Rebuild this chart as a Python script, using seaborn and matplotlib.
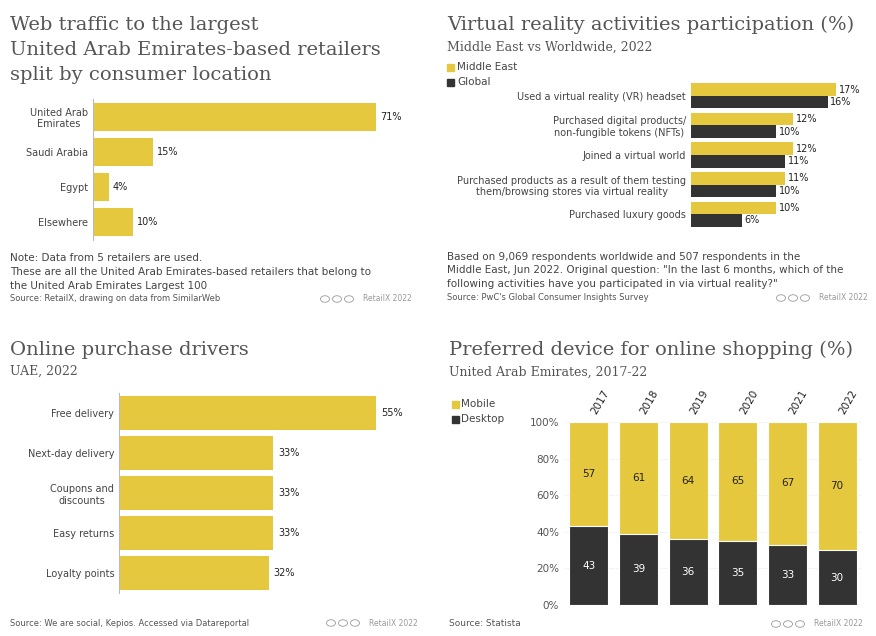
import matplotlib
matplotlib.use("Agg")
import matplotlib.pyplot as plt
import seaborn as sns
import pandas as pd
import numpy as np

# ---- data ----
traffic_cats = ["United Arab\nEmirates", "Saudi Arabia", "Egypt", "Elsewhere"]
traffic_vals = [71, 15, 4, 10]

vr_cats = ["Used a virtual reality (VR) headset",
           "Purchased digital products/\nnon-fungible tokens (NFTs)",
           "Joined a virtual world",
           "Purchased products as a result of them testing\nthem/browsing stores via virtual reality",
           "Purchased luxury goods"]
vr_me = [17, 12, 12, 11, 10]
vr_global = [16, 10, 11, 10, 6]

driver_cats = ["Free delivery", "Next-day delivery", "Coupons and\ndiscounts", "Easy returns", "Loyalty points"]
driver_vals = [55, 33, 33, 33, 32]

years = ["2017", "2018", "2019", "2020", "2021", "2022"]
mobile = [57, 61, 64, 65, 67, 70]
desktop = [43, 39, 36, 35, 33, 30]

YEL = "#E6C83F"
DARK = "#333333"
TXT = "#444444"
GRAY = "#555555"
SERIF = "DejaVu Serif"
TS = 14
W, H = 876, 636

fig = plt.figure(figsize=(W/100, H/100), dpi=100)
fig.patch.set_facecolor("white")

def rect(x0, y0, x1, y1):
    return [x0/W, 1-y1/H, (x1-x0)/W, (y1-y0)/H]

def txt(x, y, s, size=8, color=TXT, family="DejaVu Sans", ha="left", va="center", **kw):
    fig.text(x/W, 1-y/H, s, fontsize=size, color=color, family=family, ha=ha, va=va, **kw)

def badge(x, y):
    for i in range(3):
        c = plt.Circle(((x+i*12)/W, 1-y/H), 4.5/W, transform=fig.transFigure,
                       fill=False, ec="#999999", lw=0.6)
        fig.add_artist(c)
    txt(x+38, y, "RetailX 2022", size=5.5, color="#999999")

def style_h(ax):
    sns.despine(ax=ax, top=True, right=True, bottom=True)
    ax.spines["left"].set_color("#bbbbbb")
    ax.set_xticks([]); ax.set_xlabel(""); ax.set_ylabel("")
    ax.tick_params(axis="y", length=0, labelsize=7, labelcolor=TXT)

# ---- panel 1 ----
txt(10, 25, "Web traffic to the largest", size=TS, family=SERIF, color=GRAY)
txt(10, 50, "United Arab Emirates-based retailers", size=TS, family=SERIF, color=GRAY)
txt(10, 75, "split by consumer location", size=TS, family=SERIF, color=GRAY)
ax1 = fig.add_axes(rect(93, 99, 420, 240))
df1 = pd.DataFrame({"c": traffic_cats, "v": traffic_vals})
sns.barplot(data=df1, y="c", x="v", orient="h", color=YEL, width=0.8, ax=ax1, saturation=1)
ax1.set_xlim(0, 82)
for i, v in enumerate(traffic_vals):
    ax1.text(v+1, i, f"{v}%", va="center", fontsize=7, color="#222222")
for lab in ax1.get_yticklabels():
    lab.set_multialignment("center")
style_h(ax1)
txt(10, 258, "Note: Data from 5 retailers are used.", size=7.5)
txt(10, 272, "These are all the United Arab Emirates-based retailers that belong to", size=7.5)
txt(10, 286, "the United Arab Emirates Largest 100", size=7.5)
txt(10, 299, "Source: RetailX, drawing on data from SimilarWeb", size=6, color=GRAY)
badge(325, 299)

# ---- panel 2 ----
txt(447, 25, "Virtual reality activities participation (%)", size=TS, family=SERIF, color=GRAY)
txt(447, 47, "Middle East vs Worldwide, 2022", size=9, family=SERIF, color=GRAY)
fig.patches.append(plt.Rectangle((447/W, 1-71/H), 7/W, 7/H, transform=fig.transFigure, color=YEL))
fig.patches.append(plt.Rectangle((447/W, 1-86/H), 7/W, 7/H, transform=fig.transFigure, color=DARK))
txt(457, 67, "Middle East", size=7.5)
txt(457, 82, "Global", size=7.5)
ax2 = fig.add_axes(rect(691, 81, 866, 229))
df2 = pd.DataFrame({"c": vr_cats*2, "v": vr_me+vr_global,
                    "s": ["Middle East"]*5 + ["Global"]*5})
sns.barplot(data=df2, y="c", x="v", hue="s", orient="h", palette=[YEL, DARK],
            width=0.85, ax=ax2, saturation=1, legend=False)
ax2.set_xlim(0, 20.5)
for i, (a, b) in enumerate(zip(vr_me, vr_global)):
    ax2.text(a+0.3, i-0.21, f"{a}%", va="center", fontsize=7, color="#222222")
    ax2.text(b+0.3, i+0.21, f"{b}%", va="center", fontsize=7, color="#222222")
style_h(ax2)
ax2.spines["left"].set_visible(False)
for lab in ax2.get_yticklabels():
    lab.set_multialignment("center")
txt(447, 257, "Based on 9,069 respondents worldwide and 507 respondents in the", size=7.5)
txt(447, 270, "Middle East, Jun 2022. Original question: \"In the last 6 months, which of the", size=7.5)
txt(447, 284, "following activities have you participated in via virtual reality?\"", size=7.5)
txt(447, 298, "Source: PwC's Global Consumer Insights Survey", size=6, color=GRAY)
badge(781, 298)

# ---- panel 3 ----
txt(10, 350, "Online purchase drivers", size=TS, family=SERIF, color=GRAY)
txt(10, 371, "UAE, 2022", size=9, family=SERIF, color=GRAY)
ax3 = fig.add_axes(rect(119, 393, 430, 593))
df3 = pd.DataFrame({"c": driver_cats, "v": driver_vals})
sns.barplot(data=df3, y="c", x="v", orient="h", color=YEL, width=0.85, ax=ax3, saturation=1)
ax3.set_xlim(0, 66.5)
for i, v in enumerate(driver_vals):
    ax3.text(v+1, i, f"{v}%", va="center", fontsize=7, color="#222222")
for lab in ax3.get_yticklabels():
    lab.set_multialignment("center")
style_h(ax3)
txt(10, 623, "Source: We are social, Kepios. Accessed via Datareportal", size=6, color=GRAY)
badge(331, 623)

# ---- panel 4 ----
txt(449, 350, "Preferred device for online shopping (%)", size=TS, family=SERIF, color=GRAY)
txt(449, 372, "United Arab Emirates, 2017-22", size=9, family=SERIF, color=GRAY)
fig.patches.append(plt.Rectangle((452/W, 1-408/H), 7/W, 7/H, transform=fig.transFigure, color=YEL))
fig.patches.append(plt.Rectangle((452/W, 1-423/H), 7/W, 7/H, transform=fig.transFigure, color=DARK))
txt(461, 404, "Mobile", size=7.5)
txt(461, 419, "Desktop", size=7.5)
ax4 = fig.add_axes(rect(564, 422, 862, 605))
total = [m+d for m, d in zip(mobile, desktop)]
df4 = pd.DataFrame({"y": years, "t": total, "d": desktop})
sns.barplot(data=df4, x="y", y="t", color=YEL, width=0.78, ax=ax4, saturation=1)
sns.barplot(data=df4, x="y", y="d", color=DARK, width=0.78, ax=ax4, saturation=1)
for b in ax4.patches:
    b.set_edgecolor("white"); b.set_linewidth(0.8)
ax4.set_ylim(0, 100)
ax4.set_yticks(range(0, 101, 20))
ax4.set_yticklabels([f"{v}%" for v in range(0, 101, 20)])
ax4.yaxis.grid(True, color="#dddddd", lw=0.5, ls=":")
ax4.set_axisbelow(True)
ax4.xaxis.tick_top()
ax4.tick_params(axis="x", length=0, labelsize=7.5, labelcolor="#222222", pad=4)
for lab in ax4.get_xticklabels():
    lab.set_rotation(60); lab.set_ha("left")
ax4.tick_params(axis="y", length=0, labelsize=7.5, labelcolor=GRAY)
ax4.set_xlabel(""); ax4.set_ylabel("")
for s in ax4.spines.values():
    s.set_visible(False)
for i, (m, d) in enumerate(zip(mobile, desktop)):
    ax4.text(i, d + m/2, str(m), ha="center", va="center", fontsize=7.5, color="#222222")
    ax4.text(i, d/2, str(d), ha="center", va="center", fontsize=7.5, color="white")
txt(449, 624, "Source: Statista", size=6.5, color=GRAY)
badge(776, 624)

fig.savefig("out.png", dpi=100)
